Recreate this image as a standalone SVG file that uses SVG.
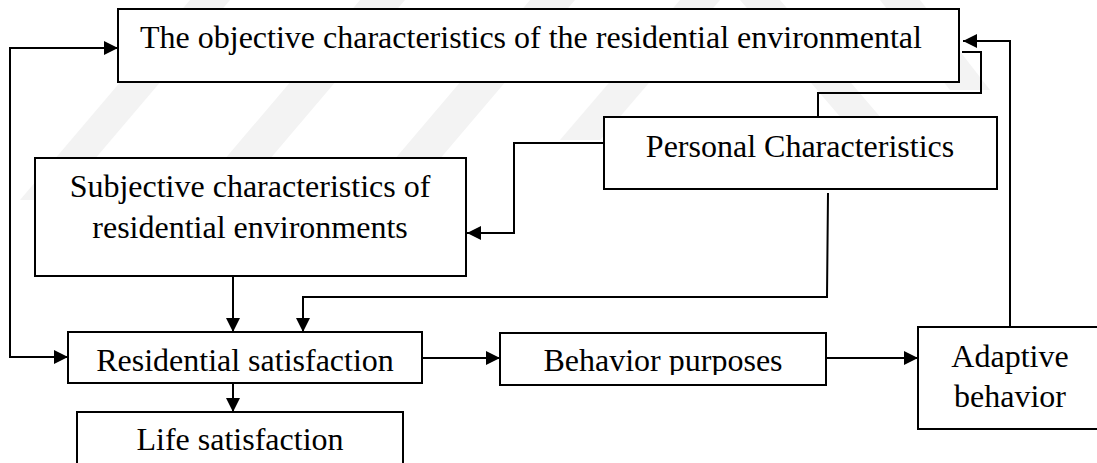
<svg xmlns="http://www.w3.org/2000/svg" width="1097" height="463" viewBox="0 0 1097 463">
<style>
.box{fill:#fff;stroke:#000;stroke-width:2}
.lbl{font-family:"Liberation Serif","Times New Roman",serif;font-size:32px;fill:#000}
.c{text-anchor:middle}
.ln{fill:none;stroke:#000;stroke-width:2}
.wm{fill:#f3f3f3}
</style>
<defs>
<marker id="ah" markerWidth="14" markerHeight="14" refX="14" refY="7" orient="auto" markerUnits="userSpaceOnUse">
<path d="M0,0 L14,7 L0,14 Z" fill="#000"/>
</marker>
<clipPath id="bpclip"><rect x="500" y="333" width="326" height="42"/></clipPath>
</defs>
<rect width="1097" height="463" fill="#fff"/>
<g id="watermark">
<polygon class="wm" points="20,200 60,200 230,0 190,0"/>
<polygon class="wm" points="190,200 235,200 405,0 360,0"/>
<polygon class="wm" points="360,200 405,200 575,0 530,0"/>
<polygon class="wm" points="560,140 600,140 720,0 680,0"/>
<polygon class="wm" points="740,0 780,0 900,140 860,140"/>
<polygon class="wm" points="880,0 920,0 990,90 950,90"/>
</g>
<g id="connectors">
<polyline class="ln" points="68,357 10,357 10,48 118,48" marker-end="url(#ah)"/>
<line class="ln" x1="10" y1="357" x2="68" y2="357" marker-end="url(#ah)"/>
<polyline class="ln" points="818,117 818,93 981,93 981,52 962,52"/>
<polyline class="ln" points="1010,327 1010,41 963,41" marker-end="url(#ah)"/>
<polyline class="ln" points="604,143 514,143 514,233 467,233" marker-end="url(#ah)"/>
<polyline class="ln" points="828,193 827,297 303,297 303,332" marker-end="url(#ah)"/>
<line class="ln" x1="233" y1="276" x2="233" y2="332" marker-end="url(#ah)"/>
<line class="ln" x1="233" y1="381" x2="233" y2="412" marker-end="url(#ah)"/>
<line class="ln" x1="422" y1="358" x2="500" y2="358" marker-end="url(#ah)"/>
<line class="ln" x1="826" y1="358" x2="918" y2="358" marker-end="url(#ah)"/>
</g>
<g id="objective">
<rect class="box" x="118" y="9" width="841" height="73"/>
<text class="lbl" x="140" y="48">The objective characteristics of the residential environmental</text>
</g>
<g id="personal">
<rect class="box" x="604" y="117" width="393" height="72"/>
<text class="lbl c" x="800" y="157">Personal Characteristics</text>
</g>
<g id="subjective">
<rect class="box" x="35" y="158" width="431" height="118"/>
<text class="lbl c" x="250" y="197">Subjective characteristics of</text>
<text class="lbl c" x="250" y="238">residential environments</text>
</g>
<g id="residential">
<rect class="box" x="68" y="332" width="354" height="51"/>
<text class="lbl c" x="245" y="371">Residential satisfaction</text>
</g>
<g id="life">
<rect class="box" x="77" y="412" width="326" height="60"/>
<text class="lbl c" x="240" y="450">Life satisfaction</text>
</g>
<g id="behavior">
<rect class="box" x="500" y="333" width="326" height="52"/>
<text class="lbl c" x="663" y="371" clip-path="url(#bpclip)">Behavior purposes</text>
</g>
<g id="adaptive">
<rect class="box" x="918" y="327" width="184" height="102"/>
<text class="lbl c" x="1010" y="367">Adaptive</text>
<text class="lbl c" x="1010" y="407">behavior</text>
</g>
</svg>
